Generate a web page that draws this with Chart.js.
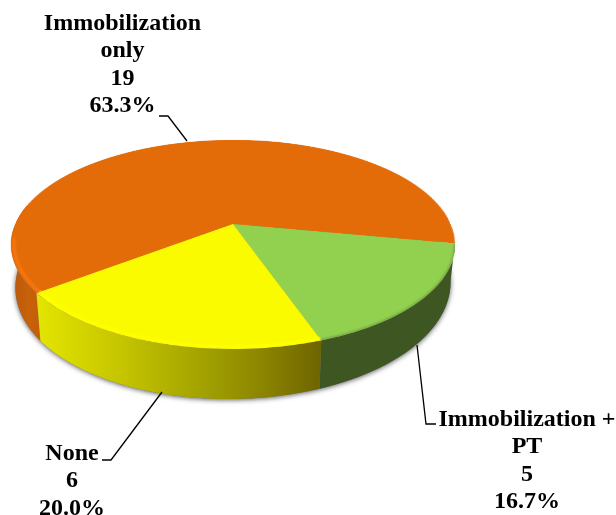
<!DOCTYPE html>
<html><head><meta charset="utf-8">
<style>html,body{margin:0;padding:0;background:#fff;overflow:hidden}canvas{display:block}</style>
<script src="https://cdn.jsdelivr.net/npm/chart.js@4"></script>
</head><body><canvas id="c" width="616" height="515"></canvas>
<script>
const categories = ["Immobilization only", "Immobilization + PT", "None"];
const values = [19, 5, 6];
const percents = ["63.3%", "16.7%", "20.0%"];
const labelLines = [["Immobilization", "only"], ["Immobilization +", "PT"], ["None"]];
const topColors = ["#E36C09", "#92D050", "#FBFB00"];

// Tilted-disc projection of the flat Chart.js pie
const CX = 233, Y0 = 224, K = 0.196, A = 100.5, B = 217.7;
const project = (u, v) => ({ x: CX + B * u / (1 - K * v), y: Y0 + A * v / (1 - K * v) });
const lowerPt = (u, v) => { const p = project(u, v);
  return { x: CX + (p.x - CX) * 0.98, y: p.y + 38 + 12 * v - 3 * u }; };
const DEG = Math.PI / 180;
function trace(ctx, a0, a1, fn, move, r = 1) {
  const n = Math.max(2, Math.ceil(Math.abs(a1 - a0) / (DEG * 1)));
  for (let i = 0; i <= n; i++) {
    const a = a0 + (a1 - a0) * i / n, p = fn(r * Math.cos(a), r * Math.sin(a));
    (i === 0 && move) ? ctx.moveTo(p.x, p.y) : ctx.lineTo(p.x, p.y);
  }
}
const yellowWall = ctx => { const g = ctx.createLinearGradient(38, 0, 321, 0);
  g.addColorStop(0, "#E4E400"); g.addColorStop(.3, "#C4C400"); g.addColorStop(.55, "#A6A600");
  g.addColorStop(.8, "#8A8400"); g.addColorStop(1, "#6E6400"); return g; };
const orangeWall = ctx => { const g = ctx.createLinearGradient(12, 0, 45, 0);
  g.addColorStop(0, "#B9590A"); g.addColorStop(.5, "#C8610A"); g.addColorStop(1, "#C25C08"); return g; };

const pie3d = {
  id: "pie3d",
  afterDatasetsDraw(chart) {
    const ctx = chart.ctx, cv = chart.canvas, arcs = chart.getDatasetMeta(0).data;
    const off = document.createElement("canvas"); off.width = cv.width; off.height = cv.height;
    off.getContext("2d").drawImage(cv, 0, 0);
    ctx.clearRect(0, 0, cv.width, cv.height);
    const cxF = arcs[0].x, cyF = arcs[0].y, R = arcs[0].outerRadius;
    const hi = 191.3 * DEG;

    // soft shadow under the disc
    ctx.save();
    ctx.shadowColor = "rgba(40,40,50,.75)"; ctx.shadowBlur = 5; ctx.shadowOffsetX = 0; ctx.shadowOffsetY = 1;
    ctx.fillStyle = "#777"; ctx.beginPath();
    trace(ctx, 0, 2 * Math.PI, lowerPt, true); ctx.closePath(); ctx.fill();
    ctx.restore();

    // side walls
    const seg = arcs.map(a => [a.startAngle, a.endAngle]);
    const fills = [orangeWall(ctx), "#3D5622", yellowWall(ctx)];
    seg.forEach(([s, e], i) => {
      if (i === 0) e = hi;
      ctx.fillStyle = fills[i]; ctx.beginPath();
      trace(ctx, s, e, project, true); trace(ctx, e, s, lowerPt, false);
      ctx.closePath(); ctx.fill();
    });

    // top face: flat pie resampled row by row
    const vAt = y => (y - Y0) / (A + K * (y - Y0));
    ctx.imageSmoothingEnabled = true; ctx.imageSmoothingQuality = "high";
    for (let y = 138; y < 352; y++) {
      const v0 = vAt(y), v1 = vAt(y + 1), vm = vAt(y + .5), s = 1 / (1 - K * vm);
      ctx.drawImage(off, cxF - R, cyF + R * v0, 2 * R, R * (v1 - v0), CX - B * s, y, 2 * B * s, 1);
    }

    // bevel along the visible rim
    ctx.save();
    ctx.beginPath(); trace(ctx, 0, 2 * Math.PI, project, true); ctx.closePath(); ctx.clip();
    ctx.filter = "blur(1px)";
    [[seg[0][0], 172 * DEG, "#F9780F", .987, 3], [seg[1][0], seg[1][1], "#6E9C3C", 1, 2], [seg[2][0], seg[2][1], "#FFFF00", .985, 3]]
      .forEach(([s, e, col, r, w]) => { ctx.strokeStyle = col; ctx.lineWidth = w; ctx.beginPath();
        trace(ctx, s, e, project, true, r); ctx.stroke(); });
    ctx.restore();

    // leader lines
    ctx.strokeStyle = "#000"; ctx.lineWidth = 1.3;
    [[[159,116],[168,116],[187,141]], [[417,345],[426,424],[436,424]], [[162,392],[111,460],[102,460]]].forEach(l => {
      ctx.beginPath(); l.forEach((p, i) => i ? ctx.lineTo(p[0], p[1]) : ctx.moveTo(p[0], p[1])); ctx.stroke();
    });

    // data labels
    ctx.fillStyle = "#000"; ctx.font = "bold 24px 'Liberation Serif'"; ctx.textAlign = "center"; ctx.textBaseline = "alphabetic";
    const anchors = [[122.5, 30], [527, 426], [72, 460]];
    labelLines.forEach((lines, i) => {
      [...lines, String(values[i]), percents[i]].forEach((t, j) => ctx.fillText(t, anchors[i][0], anchors[i][1] + j * 27.4));
    });
  }
};

new Chart(document.getElementById("c"), {
  type: "pie",
  data: { labels: categories, datasets: [{ data: values, backgroundColor: topColors, borderWidth: 0 }] },
  options: {
    responsive: false, animation: false, devicePixelRatio: 1, rotation: 232.7,
    layout: { padding: 0 },
    plugins: { legend: { display: false }, tooltip: { enabled: false } }
  },
  plugins: [pie3d]
});
</script></body></html>
